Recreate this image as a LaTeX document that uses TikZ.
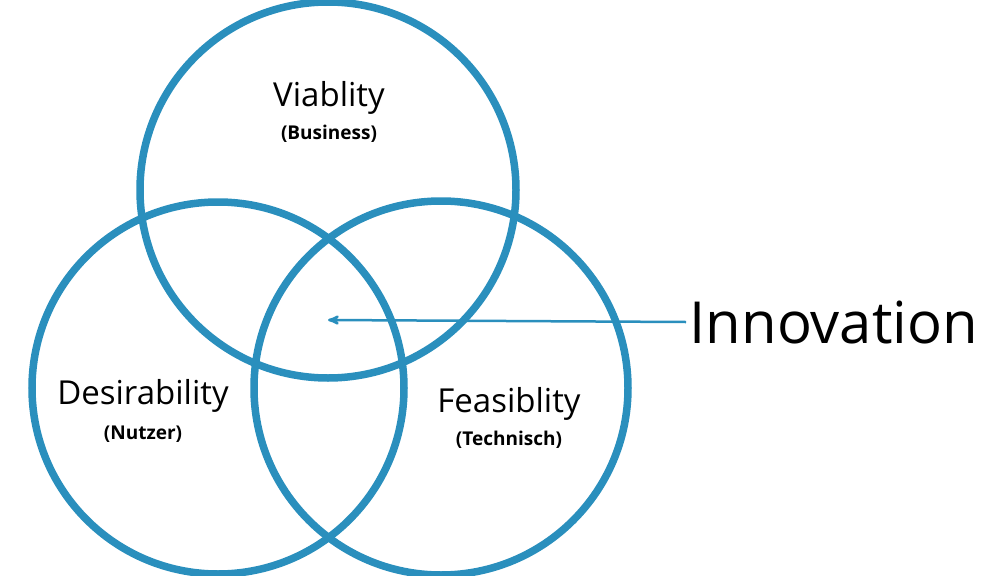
\documentclass[tikz,border=0pt]{standalone}
\usepackage{fontspec}
\setmainfont{Open Sans}
\usetikzlibrary{arrows}
\definecolor{vennblue}{HTML}{2A8FBD}
\begin{document}
\begin{tikzpicture}[x=1pt,y=-1pt,>=stealth',semithick]
            \useasboundingbox (0,0) rectangle (989,576);
            \tikzset{ring/.style={draw=vennblue,line width=7.5pt},
                     title/.style={font=\fontsize{33}{36}\selectfont},
                     sub/.style={font=\fontsize{19}{22}\selectfont\bfseries}}
            \node[ring,circle,minimum size=376pt](top)at(328, 190){};
            \node[ring,circle,minimum size=372pt](left)at(218, 388){};
            \node[ring,circle,minimum size=374pt](right)at(441, 388){};
            \node[title](via)at(329, 98){Viablity};
            \node[sub](bus)at(329, 134){(Business)};
            \node[title](des)at(143, 396){Desirability};
            \node[sub](nut)at(143, 434){(Nutzer)};
            \node[title](fea)at(509, 404){Feasiblity};
            \node[sub](tec)at(509, 440){(Technisch)};
            \node[anchor=west,font=\fontsize{58}{62}\selectfont](inno)at(686, 322){Innovation};
            \coordinate (center) at (328, 320);
            \path[->,draw=vennblue,line width=2.5pt](inno.west) -- (center);
        \end{tikzpicture}
\end{document}
